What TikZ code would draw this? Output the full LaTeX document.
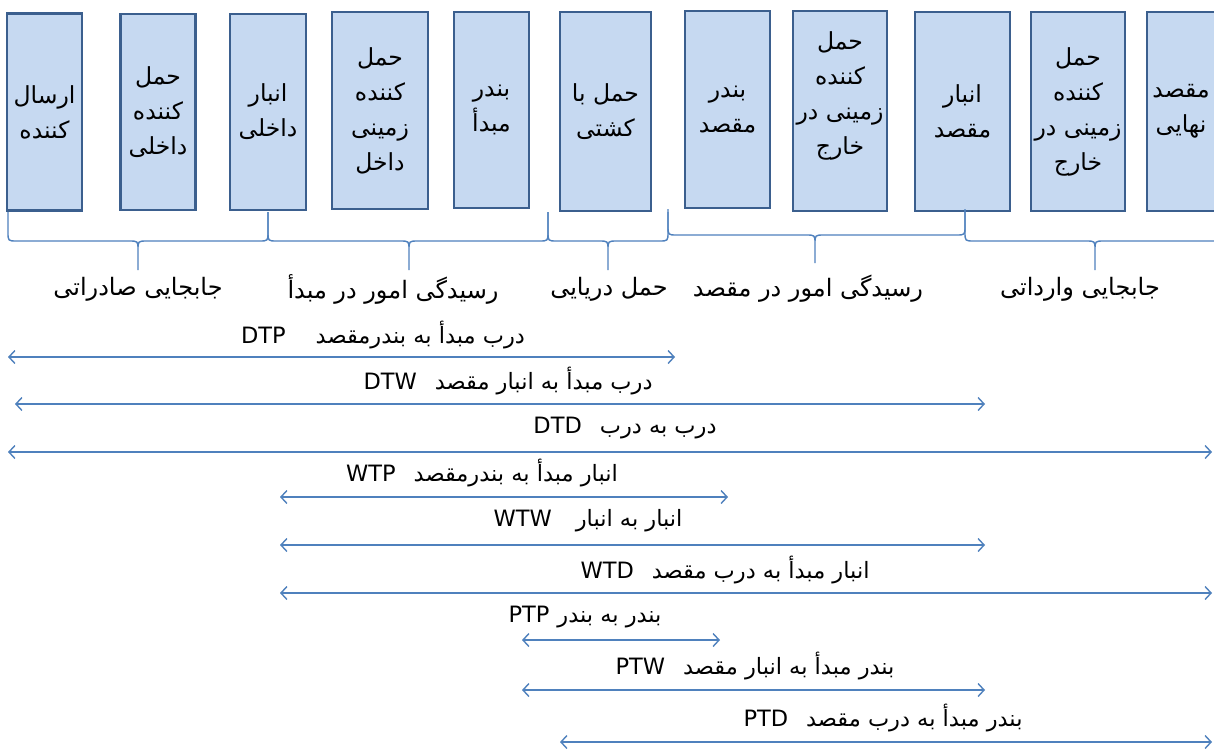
\documentclass[tikz,border=0pt]{standalone}
\usepackage{fontspec}
\setmainfont{Liberation Sans}
\newfontfamily\fafont[Script=Arabic]{DejaVu Sans}
\TeXXeTstate=1
\usetikzlibrary{arrows.meta}
\definecolor{boxfill}{HTML}{C6D9F1}
\definecolor{boxline}{HTML}{3B5F8E}
\definecolor{lineblue}{HTML}{4F81BD}
\newcommand\fa[1]{{\fafont\beginR #1\endR}}
\newcommand\lt[1]{\beginL #1\endL{}}
\newcommand\drawbrace[6]{%
  \draw[bracestyle] (#1,#4) -- (#1,{#5-9}) .. controls (#1,#5) .. ({#1+9},#5) -- ({#2-9},#5)
    .. controls (#2,#5) .. (#2,{#5+9}) -- (#2,#6)
    (#2,{#5+9}) .. controls (#2,#5) .. ({#2+9},#5) -- ({#3-9},#5)
    .. controls (#3,#5) .. (#3,{#5-9}) -- (#3,#4);}
\tikzset{
  stagebox/.style={draw=boxline, line width=2.8pt, fill=boxfill, align=center,
    inner sep=0pt, font=\fontsize{23.5}{35}\selectfont},
  bracestyle/.style={draw=lineblue, line width=1.4pt},
  span/.style={draw=lineblue, line width=1.4pt, {Straight Barb[length=6pt,width=13pt]}-{Straight Barb[length=6pt,width=13pt]}},
  bracelabel/.style={font=\fontsize{24}{28}\selectfont, inner sep=0pt},
  spanlabel/.style={font=\fontsize{22.5}{26}\selectfont, inner sep=0pt},
}
\begin{document}
\begin{tikzpicture}[x=1pt,y=-1pt]
\clip (0,0) rectangle (1214,748);
\fill[white] (0,0) rectangle (1214,748);
% boxes
\node[stagebox, minimum width=75pt, minimum height=197pt] (b1) at (44.5,112) {\fa{ارسال}\\\fa{کننده}};
\node[stagebox, minimum width=75pt, minimum height=196pt] (b2) at (158,112) {\fa{حمل}\\\fa{کننده}\\\fa{داخلی}};
\node[stagebox, minimum width=76pt, minimum height=196pt] (b3) at (268,112) {\fa{انبار}\\\fa{داخلی}};
\node[stagebox, minimum width=96pt, minimum height=197pt] (b4) at (380,110.5) {\fa{حمل}\\\fa{کننده}\\\fa{زمینی}\\\fa{داخل}};
\node[stagebox, minimum width=75pt, minimum height=196pt] (b5) at (491.5,110) {\fa{بندر}\\\fa{مبدأ}};
\node[stagebox, minimum width=91pt, minimum height=199pt] (b6) at (605.5,111.5) {\fa{حمل با}\\\fa{کشتی}};
\node[stagebox, minimum width=85pt, minimum height=197pt] (b7) at (727.5,109.5) {\fa{بندر}\\\fa{مقصد}};
\node[stagebox, minimum width=94pt, minimum height=200pt] (b8) at (840,111) {\fa{حمل}\\\fa{کننده}\\\fa{زمینی در}\\\fa{خارج}\\\mbox{}};
\node[stagebox, minimum width=95pt, minimum height=199pt] (b9) at (962.5,111.5) {\fa{انبار}\\\fa{مقصد}};
\node[stagebox, minimum width=94pt, minimum height=199pt] (b10) at (1078,111.5) {\fa{حمل}\\\fa{کننده}\\\fa{زمینی در}\\\fa{خارج}};
\node[stagebox, minimum width=94pt, minimum height=199pt] (b11) at (1194,111.5) {};
\node[font=\fontsize{23.5}{35}\selectfont, align=center, inner sep=0pt] (b11t) at (1181,111.5) {\fa{مقصد}\\\fa{نهایی}};
% braces
\drawbrace{8}{138}{268}{212}{241}{270}
\drawbrace{268}{409}{548}{212}{241}{270}
\drawbrace{548}{608}{668}{212}{241}{270}
\drawbrace{668}{815}{965}{209}{235}{263}
\drawbrace{965}{1095}{1240}{210}{241}{270}
% brace labels
\node[bracelabel] (l1) at (138,289) {\fa{جابجایی صادراتی}};
\node[bracelabel] (l2) at (393,289) {\fa{رسیدگی امور در مبدأ}};
\node[bracelabel] (l3) at (609,289) {\fa{حمل دریایی}};
\node[bracelabel] (l4) at (808,289) {\fa{رسیدگی امور در مقصد}};
\node[bracelabel] (l5) at (1080,289) {\fa{جابجایی وارداتی}};
% spans
\coordinate (dtpL) at (8,357);   \coordinate (dtpR) at (675,357);
\coordinate (dtwL) at (15,404);  \coordinate (dtwR) at (985,404);
\coordinate (dtdL) at (8,452);   \coordinate (dtdR) at (1212,452);
\coordinate (wtpL) at (280,497); \coordinate (wtpR) at (728,497);
\coordinate (wtwL) at (280,545); \coordinate (wtwR) at (985,545);
\coordinate (wtdL) at (280,593); \coordinate (wtdR) at (1212,593);
\coordinate (ptpL) at (522,640); \coordinate (ptpR) at (720,640);
\coordinate (ptwL) at (522,690); \coordinate (ptwR) at (985,690);
\coordinate (ptdL) at (560,742); \coordinate (ptdR) at (1212,742);
\draw[span] (dtpL) -- (dtpR);
\draw[span] (dtwL) -- (dtwR);
\draw[span] (dtdL) -- (dtdR);
\draw[span] (wtpL) -- (wtpR);
\draw[span] (wtwL) -- (wtwR);
\draw[span] (wtdL) -- (wtdR);
\draw[span] (ptpL) -- (ptpR);
\draw[span] (ptwL) -- (ptwR);
\draw[span] (ptdL) -- (ptdR);
% span labels
\node[spanlabel] (t1) at (383,335) {\fa{درب مبدأ به بندرمقصد\hspace{30pt}\lt{DTP}}};
\node[spanlabel] (t2) at (508,381) {\fa{درب مبدأ به انبار مقصد\hspace{18pt}\lt{DTW}}};
\node[spanlabel] (t3) at (625,428) {\fa{درب به درب\hspace{18pt}\lt{DTD}}};
\node[spanlabel] (t4) at (482,473) {\fa{انبار مبدأ به بندرمقصد\hspace{18pt}\lt{WTP}}};
\node[spanlabel] (t5) at (588,521) {\fa{انبار به انبار\hspace{24pt}\lt{WTW}}};
\node[spanlabel] (t6) at (725,570) {\fa{انبار مبدأ به درب مقصد\hspace{18pt}\lt{WTD}}};
\node[spanlabel] (t7) at (585,617) {\fa{بندر به بندر\hspace{8pt}\lt{PTP}}};
\node[spanlabel] (t8) at (755,666) {\fa{بندر مبدأ به انبار مقصد\hspace{18pt}\lt{PTW}}};
\node[spanlabel] (t9) at (883,718) {\fa{بندر مبدأ به درب مقصد\hspace{18pt}\lt{PTD}}};
\end{tikzpicture}
\end{document}
